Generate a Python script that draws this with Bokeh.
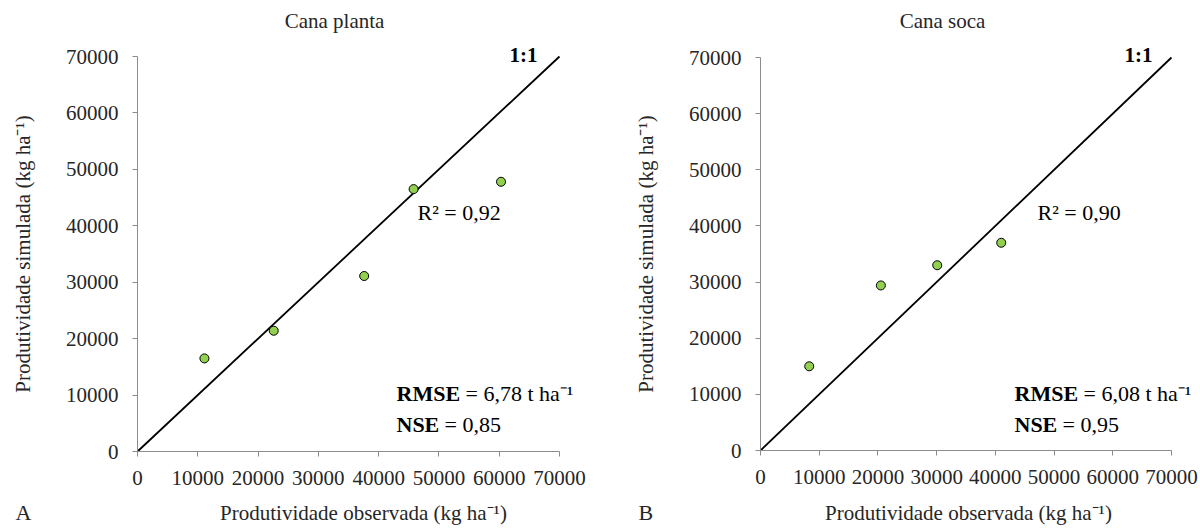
import math
from bokeh.plotting import figure
from bokeh.layouts import row
from bokeh.models import Range1d, FixedTicker, Label, BasicTickFormatter
from bokeh.embed import file_html
from bokeh.resources import INLINE

# ---------------- data ----------------
axis_ticks = [0, 10000, 20000, 30000, 40000, 50000, 60000, 70000]
one_to_one = [0, 70000]

planta_obs = [11100, 22600, 37600, 45800, 60300]
planta_sim = [16500, 21400, 31100, 46500, 47800]

soca_obs = [8300, 20500, 30100, 41000]
soca_sim = [15000, 29400, 33000, 37000]

titles = ["Cana planta", "Cana soca"]
panel_letters = ["A", "B"]
r2_texts = ["R\u00b2 = 0,92", "R\u00b2 = 0,90"]
rmse_texts = ["= 6,78 t ha\u207b\u00b9", "= 6,08 t ha\u207b\u00b9"]
nse_texts = ["= 0,85", "= 0,95"]
x_title = "Produtividade observada (kg ha\u207b\u00b9)"
y_title = "Produtividade simulada (kg ha\u207b\u00b9)"

AX_MIN, AX_MAX = 0, 70000

FONT = "Liberation Serif"
GREEN = "#92D050"
AXIS_GRAY = "#8c8c8c"
TXT = "#262626"
LABEL_SHIFT = 7  # px correction between requested and drawn baseline


def make_panel(obs, sim, idx, fig_x0, frame, width=600, height=529):
    # frame: image pixel positions (x of 0, x of 70000, y of 0, y of 70000)
    X0, X1, Y0, Y1 = frame
    sx = (AX_MAX - AX_MIN) / (X1 - X0)
    sy = (AX_MAX - AX_MIN) / (Y0 - Y1)
    x_range = Range1d(AX_MIN - (X0 - fig_x0) * sx,
                      AX_MAX + (fig_x0 + width - X1) * sx)
    y_range = Range1d(AX_MIN - (height - Y0) * sy, AX_MAX + Y1 * sy)

    p = figure(width=width, height=height, output_backend="svg",
               toolbar_location=None, x_range=x_range, y_range=y_range,
               min_border=0, min_border_left=0, min_border_right=0,
               min_border_top=0, min_border_bottom=0)
    p.outline_line_color = None
    p.xgrid.grid_line_color = None
    p.ygrid.grid_line_color = None
    p.background_fill_color = "white"
    p.border_fill_color = "white"

    for ax in (p.xaxis[0], p.yaxis[0]):
        ax.fixed_location = 0
        ax.bounds = (AX_MIN, AX_MAX)
        ax.ticker = FixedTicker(ticks=axis_ticks)
        ax.formatter = BasicTickFormatter(use_scientific=False)
        ax.axis_line_color = AXIS_GRAY
        ax.major_tick_line_color = AXIS_GRAY
        ax.minor_tick_line_color = None
        ax.major_tick_in = 0
        ax.major_tick_out = 5
        ax.major_label_text_font = FONT
        ax.major_label_text_font_size = "21px"
        ax.major_label_text_color = TXT
        ax.axis_label_text_font = FONT
        ax.axis_label_text_font_size = "21px"
        ax.axis_label_text_font_style = "normal"
        ax.axis_label_text_color = TXT
    p.xaxis.major_label_standoff = 14
    p.yaxis.major_label_standoff = 14
    p.yaxis.axis_label = y_title
    p.yaxis.axis_label_standoff = 28

    p.line(one_to_one, one_to_one, line_color="black", line_width=1.8)
    p.scatter(obs, sim, size=9, fill_color=GREEN, line_color="black",
              line_width=1)

    def d(px, py):
        return (AX_MIN + (px - X0) * sx,
                AX_MIN + (Y0 - (py - LABEL_SHIFT)) * sy)

    def lab(text, px, py, size="21px", style="normal", align="left",
            color=TXT):
        x, y = d(px, py)
        p.add_layout(Label(x=x, y=y, text=text, text_font=FONT,
                           text_font_size=size, text_font_style=style,
                           text_align=align, text_baseline="alphabetic",
                           text_color=color))

    if idx == 0:
        title_cx, xt_cx = 334, 363
        letter_x, one_x, r2_x, stat_x = 15, 509, 417, 396
    else:
        title_cx, xt_cx = 942, 968
        letter_x, one_x, r2_x, stat_x = 638, 1124, 1037, 1014

    lab(titles[idx], title_cx, 27, align="center")
    lab(x_title, xt_cx, 519, align="center")
    lab(panel_letters[idx], letter_x, 519, size="22px")
    lab("1:1", one_x, 61, style="bold", color="black")
    lab(r2_texts[idx], r2_x, 219, size="22px", color="black")
    lab("RMSE", stat_x, 400, size="22px", style="bold", color="black")
    lab(rmse_texts[idx], stat_x + 69, 400, size="22px", color="black")
    lab("NSE", stat_x, 431, size="22px", style="bold", color="black")
    lab(nse_texts[idx], stat_x + 48, 431, size="22px", color="black")
    return p


p1 = make_panel(planta_obs, planta_sim, 0, 0, (137, 559, 451, 56))
p2 = make_panel(soca_obs, soca_sim, 1, 600, (760, 1171, 450, 57))

layout = row(p1, p2)
open("out.html", "w").write(file_html(layout, INLINE))
